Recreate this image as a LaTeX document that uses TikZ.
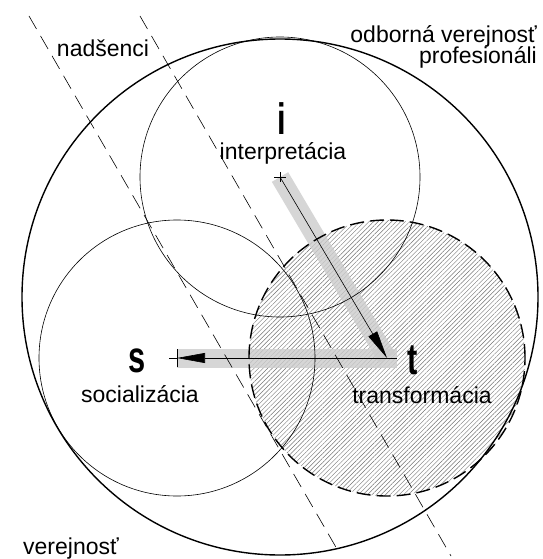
\documentclass[tikz,border=0pt]{standalone}
\usepackage{fontspec}
\setmainfont{Liberation Sans}
\usetikzlibrary{arrows.meta,patterns.meta}
\tikzset{tenka/.style={line width=0.6pt}}
\tikzset{hruba/.style={line width=1.4pt}}
\tikzset{srafa/.style={pattern={Lines[angle=45,distance=3.2pt,line width=0.45pt]},pattern color=black!55}}
\tikzset{hranica/.style={line width=0.6pt,dash pattern=on 15pt off 8pt}}
\tikzset{pas/.style={line width=19pt,draw=black!20,opacity=0.8}}
\tikzset{popis/.style={font=\fontsize{23}{21}\selectfont,inner sep=0pt}}
\tikzset{pismeno/.style={font=\fontsize{44}{44}\selectfont\bfseries,inner sep=0pt}}
\tikzset{sipka/.style={line width=0.6pt,-{Triangle[length=28pt,width=10pt]}}}

\begin{document}
\begin{tikzpicture}[x=1pt,y=-1pt]
                \useasboundingbox (0,0) rectangle (542,559);
                % stredy kruhov
                \coordinate (i) at (280,177);
                \coordinate (s) at (177,358);
                \coordinate (t) at (387,358);
                \coordinate (o) at (280,297);
                % srafovanie a tiene
                \fill[srafa] (t) circle[radius=138pt];
                \draw[pas] (i) -- (t);
                \draw[pas] (s) -- ([xshift=10pt]t);
                % kruhy
                \draw[hruba] (o) circle[radius=258pt];
                \draw[tenka] (i) circle[radius=140pt];
                \draw[tenka] (s) circle[radius=138pt];
                \draw[hruba,dash pattern=on 14pt off 6pt] (t) circle[radius=138pt];
                % hranice skupin
                \coordinate (a1) at (29,16);
                \coordinate (a2) at (337,549);
                \coordinate (b1) at (140,16);
                \coordinate (b2) at (451,556);
                \draw[hranica] (a1) -- (a2);
                \draw[hranica] (b1) -- (b2);
                % sipky
                \draw[tenka] (i) ++(-6,0) -- ++(12,0);
                \draw[tenka] (i) ++(0,-5) -- ++(0,10);
                \draw[tenka] (s) ++(0,-9) -- ++(0,18);
                \draw[tenka] (s) -- ++(-8,0);
                \draw[tenka] (t) -- ++(10,0);
                \draw[sipka] (i) -- (t);
                \draw[sipka] (t) -- (s);
                % popisy
                \node[pismeno,anchor=base] (li) at (282,135) {\scalebox{0.7}[1]{i}};
                \node[pismeno,anchor=base] (ls) at (137,372) {\scalebox{0.7}[1]{s}};
                \node[pismeno,anchor=base] (lt) at (413,374) {\scalebox{0.7}[1]{t}};
                \node[popis,anchor=base] (int) at (283,159) {interpretácia};
                \node[popis,anchor=base] (soc) at (140,402) {socializácia};
                \node[popis,anchor=base] (tra) at (422,403) {transformácia};
                \node[popis,anchor=base] (nad) at (103,57) {nadšenci};
                \node[popis,anchor=base east] (odb) at (537,43) {odborná verejnosť};
                \node[popis,anchor=base east] (pro) at (537,64) {profesionáli};
                \node[popis,anchor=base west] (ver) at (23,554) {verejnosť};
            \end{tikzpicture}
\end{document}
